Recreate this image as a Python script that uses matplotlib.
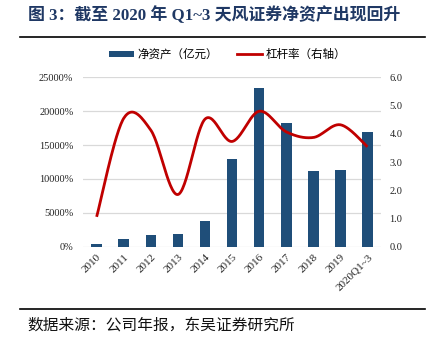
import numpy as np
import matplotlib
matplotlib.use("Agg")
import matplotlib.pyplot as plt
from matplotlib.patches import Patch
from matplotlib.lines import Line2D

categories = ["2010", "2011", "2012", "2013", "2014", "2015", "2016", "2017", "2018", "2019", "2020Q1~3"]
net_assets = [450, 1080, 1770, 1870, 3740, 12940, 23420, 18260, 11120, 11320, 16930]
leverage = [1.06, 4.55, 4.13, 1.85, 4.52, 3.73, 4.80, 4.07, 3.87, 4.32, 3.54]
left_ticks = [0, 5000, 10000, 15000, 20000, 25000]
right_ticks = [0.0, 1.0, 2.0, 3.0, 4.0, 5.0, 6.0]

BAR_COLOR = "#1F4E79"
LINE_COLOR = "#C00000"
SERIF = ["Liberation Serif", "Noto Sans CJK SC"]
CJK = ["Noto Sans CJK SC", "DejaVu Sans"]


def smooth(x, y, n=30, tension=0.5):
    x = np.asarray(x, float)
    y = np.asarray(y, float)
    xs, ys = [], []
    for i in range(len(x) - 1):
        p0 = (x[max(i - 1, 0)], y[max(i - 1, 0)])
        p1 = (x[i], y[i])
        p2 = (x[i + 1], y[i + 1])
        p3 = (x[min(i + 2, len(x) - 1)], y[min(i + 2, len(x) - 1)])
        c1 = (p1[0] + (p2[0] - p0[0]) * tension / 3, p1[1] + (p2[1] - p0[1]) * tension / 3)
        c2 = (p2[0] - (p3[0] - p1[0]) * tension / 3, p2[1] - (p3[1] - p1[1]) * tension / 3)
        t = np.linspace(0, 1, n)
        bx = (1 - t) ** 3 * p1[0] + 3 * (1 - t) ** 2 * t * c1[0] + 3 * (1 - t) * t ** 2 * c2[0] + t ** 3 * p2[0]
        by = (1 - t) ** 3 * p1[1] + 3 * (1 - t) ** 2 * t * c1[1] + 3 * (1 - t) * t ** 2 * c2[1] + t ** 3 * p2[1]
        xs.extend(bx if i == 0 else bx[1:])
        ys.extend(by if i == 0 else by[1:])
    return np.array(xs), np.array(ys)


fig = plt.figure(figsize=(4.35, 3.5), dpi=100)
ax = fig.add_axes([0.191, 0.295, 0.685, 0.484])
x = np.arange(len(categories))
ax.bar(x, net_assets, width=0.39, color=BAR_COLOR, zorder=3)
ax.set_xlim(-0.5, len(categories) - 0.5)
ax.set_ylim(0, 25000)
ax.set_yticks(left_ticks)
ax.set_yticklabels([f"{v}%" for v in left_ticks], family=SERIF, fontsize=7.5, color="#222222")
ax.set_xticks(x)
ax.set_xticklabels(categories, rotation=45, ha="right", rotation_mode="anchor",
                   family=SERIF, fontsize=8, color="#222222")
ax.tick_params(length=0, pad=7)
ax.tick_params(axis="x", pad=4)
ax.grid(axis="y", color="#D9D9D9", linewidth=0.9, zorder=0)
ax.set_axisbelow(True)
for s in ax.spines.values():
    s.set_visible(False)

ax2 = ax.twinx()
sx, sy = smooth(x, leverage)
ax2.plot(sx, sy, color=LINE_COLOR, linewidth=2.0, zorder=4, solid_capstyle="butt")
ax2.set_ylim(0, 6)
ax2.set_yticks(right_ticks)
ax2.set_yticklabels([f"{v:.1f}" for v in right_ticks], family=SERIF, fontsize=7.5, color="#222222")
ax2.tick_params(length=0, pad=6)
for s in ax2.spines.values():
    s.set_visible(False)

handles = [Patch(facecolor=BAR_COLOR, edgecolor="none"),
           Line2D([0], [0], color=LINE_COLOR, linewidth=2.0)]
fig.legend(handles, ["净资产（亿元）", "杠杆率（右轴）"], loc="center", bbox_to_anchor=(0.523, 0.844),
           ncol=2, frameon=False, prop={"family": CJK, "size": 8.3},
           handlelength=2.2, handleheight=0.5, columnspacing=1.6, handletextpad=0.3)

fig.text(0.064, 0.958, "图 3：截至 2020 年 Q1~3 天风证券净资产出现回升", family=SERIF,
         fontsize=12.2, fontweight="bold", color="#1F3864", ha="left", va="center")
fig.add_artist(Line2D([0.046, 0.977], [0.894, 0.894], color="black", linewidth=1.2))
fig.add_artist(Line2D([0.046, 0.977], [0.117, 0.117], color="black", linewidth=1.2))
fig.text(0.064, 0.072, "数据来源：公司年报，东吴证券研究所", family=CJK, fontsize=11.3,
         color="#111111", ha="left", va="center")

fig.savefig("out.png", dpi=100, facecolor="white")
